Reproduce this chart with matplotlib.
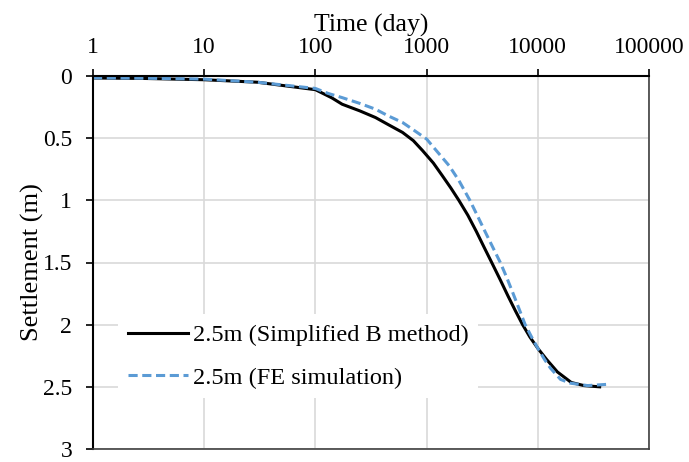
import matplotlib
matplotlib.use("Agg")
import matplotlib.pyplot as plt

plt.rcParams['font.family'] = ['Liberation Serif', 'DejaVu Serif']
plt.rcParams['font.size'] = 17

# black: simplified B method
t_simp = [1, 3, 10, 30, 100, 140, 174, 250, 347, 450, 608, 760, 920, 1150, 1380, 1650, 1950,
          2350, 2800, 3300, 3850, 4600, 5400, 6300, 7300, 8500, 10000, 12000, 15000, 20000,
          26000, 36000]
s_simp = [0.016, 0.02, 0.03, 0.05, 0.11, 0.175, 0.227, 0.28, 0.334, 0.39, 0.454, 0.52, 0.60,
          0.70, 0.80, 0.90, 1.0, 1.12, 1.25, 1.38, 1.5, 1.64, 1.77, 1.89, 2.0, 2.1, 2.19,
          2.28, 2.38, 2.465, 2.49, 2.5]

# blue dashed: FE simulation
t_fe = [1, 3, 10, 30, 100, 130, 174, 250, 347, 450, 608, 780, 1000, 1250, 1590, 1950, 2450,
        2850, 3350, 3900, 4600, 5250, 6000, 6800, 7700, 8800, 10000, 11500, 13000, 16000,
        19500, 28000, 42000]
s_fe = [0.015, 0.018, 0.025, 0.05, 0.10, 0.14, 0.174, 0.22, 0.267, 0.32, 0.374, 0.44, 0.507,
        0.61, 0.72, 0.84, 1.0, 1.12, 1.25, 1.37, 1.5, 1.62, 1.75, 1.875, 2.0, 2.1, 2.19,
        2.28, 2.35, 2.44, 2.47, 2.49, 2.48]

xticks = [1, 10, 100, 1000, 10000, 100000]
yticks = [0, 0.5, 1, 1.5, 2, 2.5, 3]

fig = plt.figure(figsize=(6.89, 4.62), dpi=100)
ax = fig.add_axes([93 / 689, 1 - 449 / 462, (649 - 93) / 689, (449 - 76) / 462])

ax.plot(t_simp, s_simp, color='black', lw=2.2, label='2.5m (Simplified B method)')
ax.plot(t_fe, s_fe, color='#5B9BD5', lw=2.2, ls=(0, (3, 1.5)), label='2.5m (FE simulation)')

ax.set_xscale('log')
ax.set_xlim(1, 100000)
ax.set_ylim(3, 0)
ax.set_xticks(xticks)
ax.set_xticklabels([str(v) for v in xticks])
ax.minorticks_off()
ax.set_yticks(yticks)
ax.set_yticklabels([f'{v:g}' for v in yticks])
ax.xaxis.tick_top()
ax.xaxis.set_label_position('top')
ax.set_xlabel('Time (day)', fontsize=18.5, labelpad=4)
ax.set_ylabel('Settlement (m)', fontsize=19, labelpad=-1)
ax.grid(True, color='#d9d9d9', lw=1.2)
ax.set_axisbelow(True)
ax.tick_params(axis='x', direction='out', length=5, width=1.2, pad=8, top=True, bottom=False)
ax.tick_params(axis='y', direction='out', length=5, width=1.2, pad=10)
for s in ['top', 'left']:
    ax.spines[s].set_linewidth(1.5)
    ax.spines[s].set_color('black')
for s in ['right', 'bottom']:
    ax.spines[s].set_linewidth(1.2)
    ax.spines[s].set_color('#404040')

leg = ax.legend(loc='lower left', bbox_to_anchor=(0.023, 0.103), frameon=True, fancybox=False,
                edgecolor='none', facecolor='white', framealpha=1, handlelength=2.47,
                labelspacing=0.85, handletextpad=0.2, fontsize=17.5)

fig.savefig('out.png', dpi=100)
